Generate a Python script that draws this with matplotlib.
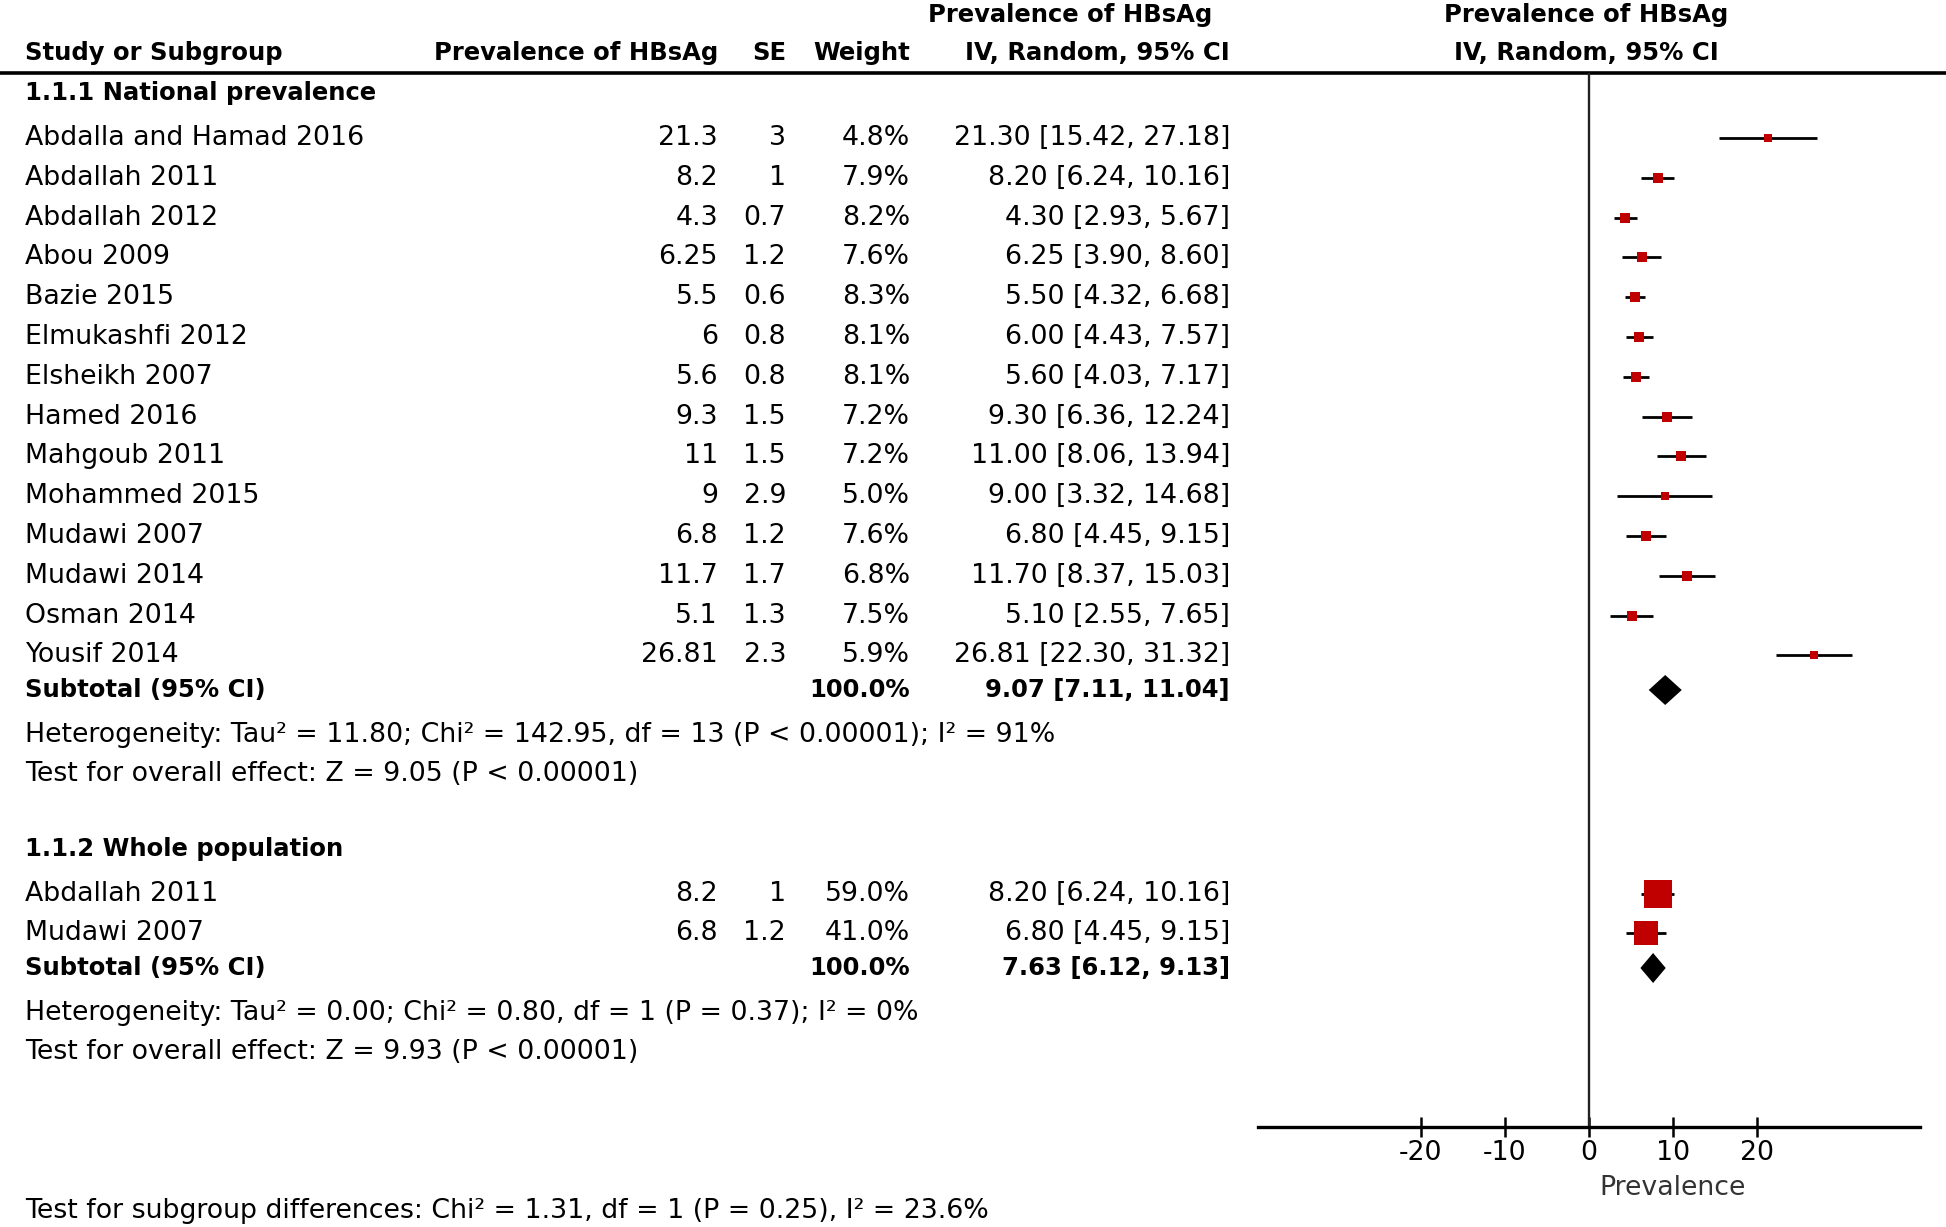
import numpy as np
import matplotlib.pyplot as plt

# subgroup 1.1.1 National prevalence
studies1 = ["Abdalla and Hamad 2016", "Abdallah 2011", "Abdallah 2012", "Abou 2009",
            "Bazie 2015", "Elmukashfi 2012", "Elsheikh 2007", "Hamed 2016",
            "Mahgoub 2011", "Mohammed 2015", "Mudawi 2007", "Mudawi 2014",
            "Osman 2014", "Yousif 2014"]
prev1 = [21.3, 8.2, 4.3, 6.25, 5.5, 6, 5.6, 9.3, 11, 9, 6.8, 11.7, 5.1, 26.81]
se1 = [3, 1, 0.7, 1.2, 0.6, 0.8, 0.8, 1.5, 1.5, 2.9, 1.2, 1.7, 1.3, 2.3]
weight1 = [4.8, 7.9, 8.2, 7.6, 8.3, 8.1, 8.1, 7.2, 7.2, 5.0, 7.6, 6.8, 7.5, 5.9]
lo1 = [15.42, 6.24, 2.93, 3.90, 4.32, 4.43, 4.03, 6.36, 8.06, 3.32, 4.45, 8.37, 2.55, 22.30]
hi1 = [27.18, 10.16, 5.67, 8.60, 6.68, 7.57, 7.17, 12.24, 13.94, 14.68, 9.15, 15.03, 7.65, 31.32]
sub1 = (9.07, 7.11, 11.04)
het1 = "Heterogeneity: Tau² = 11.80; Chi² = 142.95, df = 13 (P < 0.00001); I² = 91%"
test1 = "Test for overall effect: Z = 9.05 (P < 0.00001)"

# subgroup 1.1.2 Whole population
studies2 = ["Abdallah 2011", "Mudawi 2007"]
prev2 = [8.2, 6.8]
se2 = [1, 1.2]
weight2 = [59.0, 41.0]
lo2 = [6.24, 4.45]
hi2 = [10.16, 9.15]
sub2 = (7.63, 6.12, 9.13)
het2 = "Heterogeneity: Tau² = 0.00; Chi² = 0.80, df = 1 (P = 0.37); I² = 0%"
test2 = "Test for overall effect: Z = 9.93 (P < 0.00001)"

subgroup_test = "Test for subgroup differences: Chi² = 1.31, df = 1 (P = 0.25), I² = 23.6%"
xticks = [-20, -10, 0, 10, 20]

plt.rcParams["axes.unicode_minus"] = False

W, H = 1946, 1227
FS = 19.3
FSB = 17.5
RED = "#c00000"

fig = plt.figure(figsize=(W / 100, H / 100), dpi=100)
ax = fig.add_axes([0, 0, 1, 1])
ax.set_xlim(0, W)
ax.set_ylim(H, 0)
ax.axis("off")

# forest panel: bottom spine is the axis line
top, bot = 73, 1127
left, right = 1258, 1920
xl = 39.4
axf = fig.add_axes([left / W, (H - bot) / H, (right - left) / W, (bot - top) / H])
axf.set_xlim(-xl, xl)
axf.set_ylim(bot, top)
axf.patch.set_visible(False)
for s in ["top", "right", "left"]:
    axf.spines[s].set_visible(False)
axf.spines["bottom"].set_linewidth(2.4)
axf.set_yticks([])
axf.set_xticks(xticks)
axf.tick_params(axis="x", direction="inout", length=15, width=1.8, labelsize=FS, pad=2)
axf.axvline(0, color="#222222", lw=1.7)
axf.text(10, bot + 61, "Prevalence", ha="center", va="center", fontsize=FS, color="#333333")

xn, xp, xs, xw, xc = 25, 718, 786, 910, 1230

# header
ax.text(1070, 15, "Prevalence of HBsAg", ha="center", va="center", fontsize=FSB, fontweight="bold")
ax.text(1586, 15, "Prevalence of HBsAg", ha="center", va="center", fontsize=FSB, fontweight="bold")
ax.text(xn, 53, "Study or Subgroup", ha="left", va="center", fontsize=FSB, fontweight="bold")
ax.text(xp, 53, "Prevalence of HBsAg", ha="right", va="center", fontsize=FSB, fontweight="bold")
ax.text(xs, 53, "SE", ha="right", va="center", fontsize=FSB, fontweight="bold")
ax.text(xw, 53, "Weight", ha="right", va="center", fontsize=FSB, fontweight="bold")
ax.text(1097, 53, "IV, Random, 95% CI", ha="center", va="center", fontsize=FSB, fontweight="bold")
ax.text(1586, 53, "IV, Random, 95% CI", ha="center", va="center", fontsize=FSB, fontweight="bold")
ax.axhline(top, color="black", lw=2.6)


def draw_group(title, y_title, names, prev, se, weight, lo, hi, ys, sub, y_sub, het, test, y_het):
    ax.text(xn, y_title, title, ha="left", va="center", fontsize=FSB, fontweight="bold")
    for n, p, s, w, l, h, y in zip(names, prev, se, weight, lo, hi, ys):
        ax.text(xn, y, n, ha="left", va="center", fontsize=FS)
        ax.text(xp, y, f"{p:g}", ha="right", va="center", fontsize=FS)
        ax.text(xs, y, f"{s:g}", ha="right", va="center", fontsize=FS)
        ax.text(xw, y, f"{w:.1f}%", ha="right", va="center", fontsize=FS)
        ax.text(xc, y, f"{p:.2f} [{l:.2f}, {h:.2f}]", ha="right", va="center", fontsize=FS)
        axf.plot([l, h], [y, y], color="black", lw=2.0, solid_capstyle="butt")
        side = 3.7 * np.sqrt(w)
        axf.plot(p, y, marker="s", color=RED, ms=side * 0.72, mew=0, linestyle="none")
    est, slo, shi = sub
    ax.text(xn, y_sub, "Subtotal (95% CI)", ha="left", va="center", fontsize=FSB, fontweight="bold")
    ax.text(xw, y_sub, "100.0%", ha="right", va="center", fontsize=FSB, fontweight="bold")
    ax.text(xc, y_sub, f"{est:.2f} [{slo:.2f}, {shi:.2f}]", ha="right", va="center",
            fontsize=FSB, fontweight="bold")
    axf.fill([slo, est, shi, est], [y_sub, y_sub - 15, y_sub, y_sub + 15], color="black", lw=0)
    ax.text(xn, y_het, het, ha="left", va="center", fontsize=FS)
    ax.text(xn, y_het + 39, test, ha="left", va="center", fontsize=FS)


ys1 = 138 + 39.8 * np.arange(len(studies1))
draw_group("1.1.1 National prevalence", 93, studies1, prev1, se1, weight1, lo1, hi1,
           ys1, sub1, 690, het1, test1, 735)
ys2 = [894, 933]
draw_group("1.1.2 Whole population", 849, studies2, prev2, se2, weight2, lo2, hi2,
           ys2, sub2, 968, het2, test2, 1013)

ax.text(xn, 1211, subgroup_test, ha="left", va="center", fontsize=FS)

fig.savefig("out.png", dpi=100)
